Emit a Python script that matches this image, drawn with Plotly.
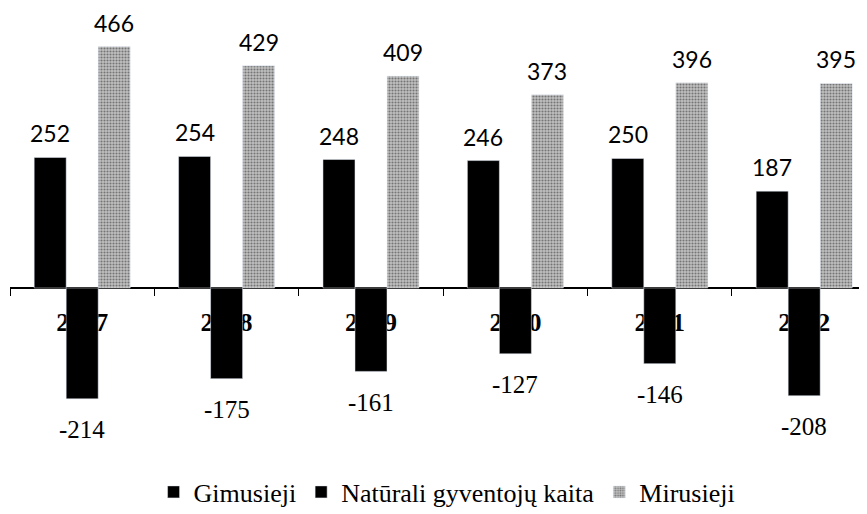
import plotly.graph_objects as go

metai = ["2007", "2008", "2009", "2010", "2011", "2012"]
gimusieji = [252, 254, 248, 246, 250, 187]
kaita = [-214, -175, -161, -127, -146, -208]
mirusieji = [466, 429, 409, 373, 396, 395]

y_min, y_max = -312.7, 540.5

fig = go.Figure()
fig.add_bar(x=metai, y=gimusieji, name="Gimusieji", marker_color="black")
fig.add_bar(x=metai, y=kaita, name="Natūrali gyventojų kaita", marker_color="black")
fig.add_bar(x=metai, y=mirusieji, name="Mirusieji",
            marker=dict(color="#a0a0a0",
                        pattern=dict(shape=".", fgcolor="#2a2a2a", bgcolor="#c0c0c0",
                                     size=3, solidity=0.4)))

# reikšmių etiketės (x - kategorijos indeksas, kad "2007" nebūtų skaitomas kaip skaičius)
for serija, poslinkis in [(gimusieji, -32), (mirusieji, 32)]:
    for i, v in enumerate(serija):
        fig.add_annotation(x=i, y=v, text=str(v), showarrow=False,
                           xshift=poslinkis, yshift=24, borderpad=0,
                           font=dict(family="Lato", size=23, color="black"))
for i, v in enumerate(kaita):
    fig.add_annotation(x=i, y=v, text=str(v), showarrow=False, yshift=-31,
                       font=dict(family="Liberation Serif", size=25, color="black"))

fig.update_layout(
    barmode="group", bargap=0.335, bargroupgap=0,
    width=859, height=506,
    margin=dict(l=2, r=0, t=0, b=64, autoexpand=False),
    paper_bgcolor="white", plot_bgcolor="white",
    showlegend=True,
    legend=dict(orientation="h", x=0.51, xanchor="center",
                y=0.0435, yref="container", yanchor="middle",
                font=dict(family="Liberation Serif", size=26, color="black")),
)
fig.update_xaxes(type="category", range=[-0.5, 5.435], anchor="free",
                 position=(0 - y_min) / (y_max - y_min),
                 showline=True, linecolor="black", linewidth=1.5,
                 ticks="outside", tickson="boundaries", ticklen=7, tickcolor="black",
                 ticklabelstandoff=11, layer="below traces",
                 tickfont=dict(family="Liberation Serif", size=26, color="black", weight="bold"),
                 showgrid=False)
fig.update_yaxes(range=[y_min, y_max], visible=False, showgrid=False, zeroline=False)

fig.write_html("out.html")
